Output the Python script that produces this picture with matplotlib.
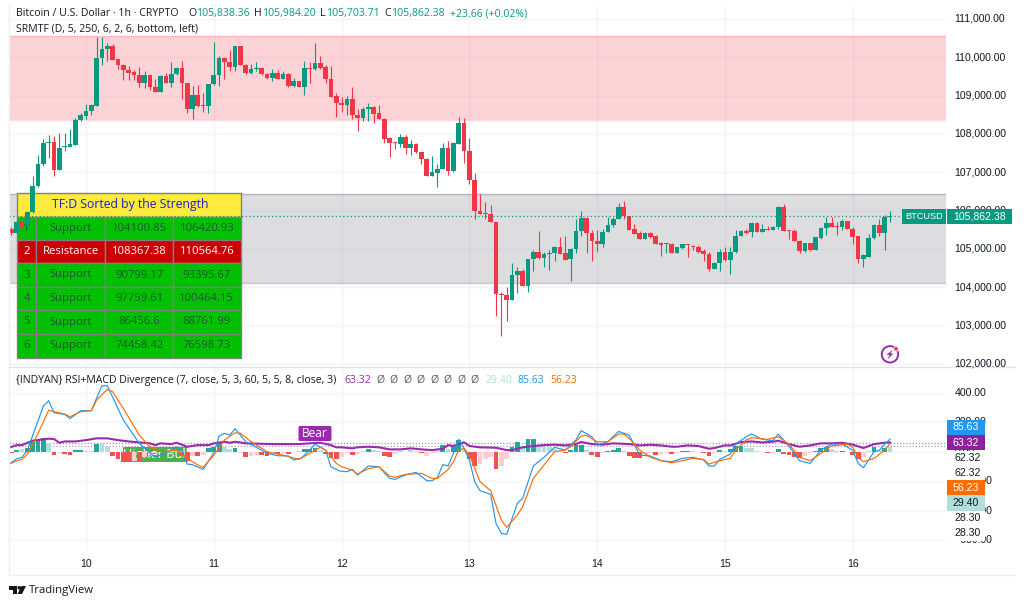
import matplotlib
matplotlib.use("Agg")
import matplotlib.pyplot as plt
from matplotlib.patches import Rectangle, Circle, Polygon, FancyBboxPatch

# --- Data ---

first_hour = -14  # hours relative to midnight of day 10

opens = [105510, 105406, 105710, 105597, 105963, 106641, 107216, 107755, 107780, 107059,
         107650, 107668, 107720, 108364, 108477, 108599, 108729, 109982, 110208, 110295,
         109947, 109808, 109678, 109617, 109547, 109321, 109530, 109234, 109095, 109521,
         109321, 109565, 109721, 109321, 108660, 109025, 108747, 108729, 109304, 109547,
         109982, 109878, 109739, 110295, 109808, 109600, 109686, 109721, 109565, 109460,
         109582, 109443, 109573, 109251, 109373, 109234, 109712, 109686, 109860, 109739,
         109443, 108991, 108799, 108747, 108903, 108503, 108425, 108651, 108712, 108538,
         108399, 107885, 107790, 107746, 107912, 107633, 107738, 107520, 107337, 106911,
         106989, 107076, 107624, 107024, 107746, 108294, 107564, 106798, 105989, 105937,
         105902, 105702, 103831, 103788, 103666, 104318, 104432, 104031, 104727, 104919,
         104762, 104858, 104884, 105058, 104884, 104727, 105006, 105458, 105806, 105406,
         105215, 105128, 105441, 105632, 105771, 106102, 105858, 105510, 105406, 105258,
         105406, 105336, 105145, 105128, 105128, 104884, 105032, 105128, 105076, 105041,
         104936, 104867, 104466, 104640, 104919, 104701, 104919, 105336, 105475, 105449,
         105684, 105449, 105519, 105493, 105563, 106102, 105493, 105458, 105215, 104936,
         105153, 104971, 105284, 105536, 105684, 105597, 105562, 105719, 105510, 105328,
         104745, 104797, 105275, 105615, 105423, 105824]
highs = [105563, 105754, 105730, 106000, 106902, 107450, 107860, 107972, 107946, 108016,
         108033, 108120, 108407, 108538, 108782, 108782, 110522, 110539, 110365, 110339,
         109965, 109826, 109773, 109669, 109739, 109652, 109530, 109443, 109530, 109582,
         109878, 109756, 109913, 109340, 109251, 109286, 109060, 109304, 110400, 110034,
         110017, 110191, 110304, 110304, 109826, 109826, 109878, 109730, 109582, 109686,
         109669, 109652, 109582, 109452, 109382, 109913, 109887, 110382, 110034, 109800,
         109773, 109060, 108956, 108990, 109217, 108642, 108695, 108799, 108729, 108764,
         108416, 107929, 107790, 108000, 107964, 107842, 107772, 107537, 107363, 107424,
         107216, 107755, 107825, 107790, 108451, 108408, 107885, 106972, 106433, 106232,
         106146, 105710, 103883, 103997, 104623, 104519, 104466, 104745, 104971, 105458,
         104919, 104971, 105075, 105319, 105336, 105015, 105780, 105980, 105806, 105493,
         105493, 105528, 105841, 105841, 106189, 106250, 105858, 105650, 105467, 105441,
         105449, 105363, 105180, 105162, 105145, 105058, 105136, 105136, 105110, 105093,
         104988, 104919, 104658, 105006, 105058, 105058, 105493, 105493, 105510, 105693,
         105710, 105650, 105597, 105597, 106119, 106172, 105493, 105510, 105223, 105162,
         105162, 105319, 105580, 105841, 105824, 105710, 105789, 105728, 105562, 105336,
         104858, 105389, 105650, 105771, 105876, 105984]
lows = [105371, 105389, 105560, 105580, 105930, 106607, 107172, 107364, 106902, 107059,
        107564, 107668, 107703, 108347, 108381, 108495, 108729, 109791, 109913, 109930,
        109686, 109408, 109408, 109408, 109217, 109190, 109147, 109095, 109095, 109321,
        109234, 109538, 108921, 108538, 108381, 108712, 108582, 108538, 109277, 109251,
        109443, 109634, 109634, 109791, 109565, 109565, 109634, 109547, 109443, 109373,
        109443, 109425, 109234, 109217, 109234, 109025, 109321, 109669, 109704, 109338,
        108973, 108434, 108581, 108503, 108381, 108077, 108347, 108347, 108277, 108399,
        107755, 107390, 107616, 107668, 107468, 107459, 107511, 107216, 106911, 106902,
        106624, 107076, 106920, 107007, 107729, 107250, 106693, 105789, 105911, 105771,
        105693, 103257, 102735, 103126, 103666, 103840, 104031, 103866, 104414, 104745,
        104536, 104449, 104675, 104866, 104710, 104153, 104884, 105336, 104901, 104693,
        104928, 105058, 105441, 105580, 105771, 105771, 105493, 105389, 105249, 105249,
        105284, 105128, 104823, 104901, 104884, 104884, 104997, 104780, 104971, 104901,
        104693, 104414, 104466, 104414, 104693, 104353, 104901, 105336, 105389, 105302,
        105449, 105432, 105493, 105493, 105528, 105458, 105249, 105197, 104901, 104919,
        104954, 104971, 105267, 105354, 105562, 105362, 105493, 105510, 105128, 104640,
        104519, 104780, 105258, 105336, 104971, 105703]
closes = [105406, 105710, 105580, 105963, 106641, 107216, 107755, 107780, 107059, 107633,
          107686, 107738, 108364, 108486, 108599, 108747, 109982, 110208, 110295, 109930,
          109808, 109669, 109600, 109547, 109321, 109530, 109234, 109095, 109521, 109321,
          109565, 109712, 109321, 108660, 109016, 108729, 108729, 109304, 109547, 109982,
          109878, 109739, 110295, 109808, 109600, 109686, 109721, 109565, 109460, 109600,
          109443, 109573, 109251, 109373, 109234, 109712, 109686, 109860, 109721, 109443,
          108973, 108799, 108747, 108903, 108503, 108425, 108651, 108712, 108521, 108399,
          107877, 107772, 107772, 107912, 107633, 107738, 107520, 107337, 106911, 106998,
          107076, 107624, 107042, 107755, 108294, 107564, 106798, 105989, 105911, 105902,
          105702, 103823, 103788, 103666, 104327, 104432, 104031, 104736, 104919, 104762,
          104866, 104901, 105058, 104866, 104710, 105006, 105458, 105806, 105406, 105215,
          105128, 105441, 105632, 105771, 106102, 105858, 105493, 105389, 105258, 105406,
          105302, 105128, 105093, 105145, 104884, 105041, 105119, 105110, 105041, 104928,
          104867, 104466, 104623, 104919, 104701, 104919, 105336, 105458, 105423, 105667,
          105449, 105510, 105502, 105580, 106102, 105467, 105476, 105215, 104936, 105145,
          104971, 105302, 105545, 105684, 105580, 105580, 105719, 105510, 105319, 104727,
          104840, 105284, 105615, 105406, 105824, 105862]

support_zone = (104100.85, 106420.93)
resistance_zone = (108367.38, 110564.76)
last_price = 105862.38

price_ticks = [111000, 110000, 109000, 108000, 107000, 106000, 105000, 104000, 103000, 102000]
osc_ticks = [400, 200, 0, -200, -400, -600]
day_hours = [0, 24, 48, 72, 96, 120, 144]
day_labels = ["10", "11", "12", "13", "14", "15", "16"]

blue_t = [-14.5, -13, -12, -11, -8, -7, -6, -4, -3, -1, 1, 3, 4, 7, 10, 12, 13, 15, 17, 18, 19, 20, 22, 24, 25,
          26, 27, 28, 30, 32, 34, 36, 38, 39, 40.4, 42, 43, 45, 46, 47.6, 49, 50, 51, 53, 55, 57, 58, 60, 62,
          64, 65, 66, 67, 68, 69, 70, 71, 72, 73, 74, 76, 77, 78, 79, 81, 82, 84, 86, 88, 90, 92, 93, 95, 96,
          98, 100, 102, 104, 106, 108, 110, 112, 114, 116, 117, 118, 119, 121, 122, 124, 125, 127, 129, 130,
          132, 134, 136, 138, 140, 142, 144, 145, 146, 148, 149, 150, 151]
blue_v = [-86, -47, -38, 11, 311, 347, 265, 254, 225, 279, 279, 449, 449, 216, 57, -7, -38, -7, 34, 11, -84, -88,
          -120, -7, 107, 125, 113, 157, 68, 30, -11, -27, -29, -56, -45, 11, 52, 11, -102, -131, -136, -120, -158,
          -97, -102, -181, -188, -158, -140, -197, -197, -174, -88, -97, -11, 84, 23, -57, -204, -265, -290, -487,
          -555, -562, -351, -317, -97, -38, 30, 11, 80, 143, 102, 45, 68, 138, 113, -23, -29, -61, -68, -45, -38,
          -56, -97, -97, -52, -16, 52, 102, 120, 84, 75, 120, 39, -61, -79, 11, 52, 52, 11, -79, -109, 0, 11, 52, 85.63]

orange_t = [-14.5, -13, -12, -11, -9, -7, -6, -4, -3, -1, 1, 2, 4, 5, 7, 10, 12, 14, 17, 19, 21, 22, 24, 26, 28, 29,
            31, 34, 37, 40, 42, 44, 45, 47, 48, 50, 51, 53, 55, 57, 58, 60, 63, 65, 66, 68, 69, 70, 71, 72, 74, 76,
            78, 79, 81, 82, 84, 86, 88, 90, 91, 93, 94, 96, 98, 100, 101, 102, 104, 106, 108, 110, 112, 114, 116,
            117, 119, 121, 122, 124, 125, 128, 130, 132, 134, 136, 138, 140, 143, 144, 145, 146, 148, 150, 151]
orange_v = [-86, -61, -52, -16, 125, 283, 272, 256, 238, 272, 279, 352, 424, 408, 295, 113, 34, 0, 11, -45, -90, -106,
            -23, 80, 129, 125, 68, 0, -23, -52, -11, 30, 11, -79, -102, -125, -152, -115, -102, -165, -174, -154, -147,
            -181, -181, -120, -68, 11, 23, -23, -204, -265, -465, -514, -431, -374, -181, -90, 0, 11, 34, 107, 111, 68,
            68, 120, 120, 91, 11, -38, -61, -75, -61, -45, -52, -84, -61, -45, 11, 80, 95, 84, 102, 52, -38, -61, -11,
            39, 52, 30, -38, -68, -45, 11, 56.23]

purple_t = [-14.5, -13, -12, -11, -10, -7, -6, -5, -4, -2, 0, 2, 4, 6, 8, 12, 13, 14, 16, 17, 19, 21, 23, 24, 26, 27,
            28, 30, 35, 40, 42, 44, 46, 47, 48, 50, 51, 53, 55, 57, 59, 61, 63, 65, 67, 68, 69, 70, 71, 72, 74, 77, 79,
            80, 82, 84, 86, 88, 90, 92, 93, 95, 97, 99, 102, 104, 106, 108, 110, 111, 113, 115, 117, 118, 120, 121,
            123, 125, 127, 129, 130, 132, 134, 136, 138, 140, 142, 144, 146, 148, 150, 151]
purple_v = [27, 45, 45, 61, 75, 89, 86, 61, 70, 70, 79, 91, 91, 79, 70, 57, 45, 57, 52, 61, 34, 45, 45, 57, 68, 61, 68,
            57, 52, 52, 57, 61, 45, 30, 30, 23, 30, 34, 30, 16, 16, 23, 16, 11, 20, 45, 39, 52, 64, 39, 30, 27, 11, 11,
            30, 39, 45, 48, 43, 52, 66, 52, 48, 57, 52, 43, 48, 43, 34, 34, 43, 39, 20, 25, 43, 43, 66, 70, 63, 68, 75,
            52, 34, 43, 57, 57, 61, 48, 25, 52, 61, 63.32]

hist_vals = [-7, 9, 16, 25, 79, 79, 91, 57, -23, -11,
             -16, -23, 11, 11, 5, 5, 52, 52, 30, -29,
             -52, -68, -68, -61, -61, -39, -23, -11, 7, 7,
             5, 5, -29, -61, -29, -29, -23, 25, 30, 61,
             30, 16, 25, -7, -34, -29, -23, -25, -29, -16,
             -18, -7, -16, -5, 5, 16, 16, 25, 11, -16,
             -45, -52, -39, -11, -23, -18, 5, 18, 11, 5,
             -29, -34, -16, 5, -5, 9, 5, -7, -29, -7,
             5, 48, 16, 43, 79, 20, -52, -97, -84, -52,
             -39, -118, -97, -52, 30, 66, 39, 84, 88, 43,
             43, 30, 20, 11, -11, 11, 43, 43, 11, -20,
             -34, -7, 7, 11, 25, 5, -29, -41, -45, -16,
             -11, -23, -16, -11, -16, -7, 7, 7, 5, -5,
             -11, -29, -7, 11, 5, 16, 39, 39, 25, 25,
             5, -5, -11, -7, 18, -16, -25, -39, -45, -27,
             -11, 5, 23, 30, 16, 7, 7, -5, -25, -52,
             -39, 3, 30, 11, 23, 29.4]
# d = strong up, l = weak up, r = strong down, p = weak down
hist_kinds = ["rdldddd" + "lrp",
              "rrddlldllr",
              "rrrprpppdd",
              "llrrprpddd",
              "lldprpprrp",
              "rprpldddlr",
              "rrpprpldll",
              "rrpldlprpp",
              "ldlddlrrpp",
              "prppddlddl",
              "llllrdddlr",
              "rpdddlrrrp",
              "prpprpddlp",
              "rrpdlddd" + "ll",
              "lrrpdrrrrp",
              "pdddlldprr",
              "pldldl"]
hist_kinds = "".join(hist_kinds)

table_rows = [("1", "Support", "104100.85", "106420.93"),
              ("2", "Resistance", "108367.38", "110564.76"),
              ("3", "Support", "90799.17", "93395.67"),
              ("4", "Support", "97759.61", "100464.15"),
              ("5", "Support", "86456.6", "88761.99"),
              ("6", "Support", "74458.42", "76598.73")]

# --- Style ---

GREEN = "#089981"
RED = "#f23645"
GRID = "#f2f4f8"
UI_FONT = ["Open Sans", "DejaVu Sans"]
AXIS_FONT = ["Liberation Sans", "DejaVu Sans"]
HIST_COLORS = {"d": "#26a69a", "l": "#b2dfdb", "r": "#ef5350", "p": "#ffcdd2"}
W, H = 1024, 606

# scale: 128 px per day, left edge of the plot at x=9
HOUR_PX = 127.8 / 24
X0 = 86


def pane(top, bottom, ylim):
    ax = fig.add_axes([9 / W, 1 - bottom / H, 937 / W, (bottom - top) / H])
    ax.set_xlim((9 - X0) / HOUR_PX, (946 - X0) / HOUR_PX)
    ax.set_ylim(*ylim)
    ax.axis("off")
    return ax


def label(x, y, s, color="#131722", size=7.55, ha="left", font=None, zorder=20, **kw):
    return px.text(x, y, s, color=color, fontsize=size, ha=ha, va="center", family=font or UI_FONT,
                   zorder=zorder, **kw)


def tag(x0, x1, y0, y1, bg, s, fg="white", size=7.6):
    px.add_patch(Rectangle((x0, y0), x1 - x0, y1 - y0, fc=bg, ec="none", zorder=12))
    label((x0 + x1) / 2, (y0 + y1) / 2, s, color=fg, ha="center", font=AXIS_FONT, size=size, zorder=13)


fig = plt.figure(figsize=(W / 100, H / 100), dpi=100, facecolor="white")

# overlay in pixel coordinates for everything that is not on a data scale
px = fig.add_axes([0, 0, 1, 1], zorder=10)
px.set_xlim(0, W)
px.set_ylim(H, 0)
px.axis("off")

# --- Price pane ---

ax = pane(5, 366, (101943, 111365))
ax.set_zorder(1)
hours = [first_hour + i for i in range(len(opens))]

for d in day_hours:
    ax.axvline(d, color=GRID, lw=1, zorder=0)
for p in price_ticks:
    ax.axhline(p, color=GRID, lw=1, zorder=0)

ax.axhspan(*resistance_zone, fc="#f7525f", alpha=0.25, ec="none", zorder=1)
ax.axhspan(*support_zone, fc="#787b86", alpha=0.25, ec="none", zorder=1)
for edge in resistance_zone:
    ax.axhline(edge, color="#f7525f", alpha=0.2, lw=1, zorder=1)
for edge in support_zone:
    ax.axhline(edge, color="#787b86", alpha=0.4, lw=1, zorder=1)

# strength table sits under the candles, so it goes in this axes
col_x = [17.3, 35.7, 105.3, 173, 240.7]
row_y = [193, 216.7, 240, 263.3, 286.7, 310, 334, 357.7]
ax.add_patch(Rectangle((col_x[0], row_y[0]), col_x[-1] - col_x[0], row_y[1] - row_y[0], fc="#ffeb3b", ec="#808080",
                       lw=1, transform=px.transData, zorder=3))
ax.text((col_x[0] + col_x[-1]) / 2 + 1, (row_y[0] + row_y[1]) / 2 - 0.5, "TF:D Sorted by the Strength", color="#1a1ae0",
        fontsize=8.8, ha="center", va="center", family=UI_FONT, transform=px.transData, zorder=4)
for r, row in enumerate(table_rows):
    is_res = row[1] == "Resistance"
    for c, cell in enumerate(row):
        ax.add_patch(Rectangle((col_x[c], row_y[r + 1]), col_x[c + 1] - col_x[c], row_y[r + 2] - row_y[r + 1],
                               fc="#cc0000" if is_res else "#00c000", ec="#808080", lw=1,
                               transform=px.transData, zorder=3))
        ax.text((col_x[c] + col_x[c + 1]) / 2, (row_y[r + 1] + row_y[r + 2]) / 2, cell,
                color="white" if is_res else "#1f5c2e", fontsize=8.1, ha="center", va="center", family=UI_FONT,
                transform=px.transData, zorder=4)

colors = [GREEN if c >= o else RED for o, c in zip(opens, closes)]
ax.vlines(hours, lows, highs, colors=colors, lw=0.8, zorder=5)
ax.bar(hours, [abs(c - o) for o, c in zip(opens, closes)], bottom=[min(o, c) for o, c in zip(opens, closes)],
       width=0.88, color=colors, linewidth=0, zorder=6)
ax.axhline(last_price, color=GREEN, lw=0.9, ls=(0, (1, 2)), zorder=7)

# --- Oscillator pane ---

ax2 = pane(367, 550, (-668, 576))
ax2.set_zorder(1)
for d in day_hours:
    ax2.axvline(d, color=GRID, lw=1, zorder=0)
for v in osc_ticks:
    ax2.axhline(v, color=GRID, lw=1, zorder=0)
ax2.axhline(62.32, color="#9598a1", lw=0.9, ls=(0, (1, 1.5)), zorder=1)
ax2.axhline(38, color="#b79ac0", lw=0.9, ls=(0, (1, 1.5)), zorder=1)

# labels sit under the histogram and the lines
ax2.add_patch(FancyBboxPatch((123.5, 447.5), 64, 14, boxstyle="round,pad=0.5,rounding_size=1.5", fc="#4caf50", ec="none",
                             transform=px.transData, zorder=2))
ax2.text(155.5, 454.5, "Higher Bull", color="white", fontsize=9.2, ha="center", va="center", family=UI_FONT,
         transform=px.transData, zorder=2.5)
ax2.bar(hours, hist_vals, width=0.9, color=[HIST_COLORS[k] for k in hist_kinds], linewidth=0, zorder=3)
ax2.plot(purple_t, purple_v, color="#9c27b0", lw=1.5, zorder=4)
ax2.plot(blue_t, blue_v, color="#2196f3", lw=0.85, zorder=5)
ax2.plot(orange_t, orange_v, color="#ff6d00", lw=0.85, zorder=6)
ax2.add_patch(FancyBboxPatch((299, 426.5), 32, 14, boxstyle="round,pad=0.5,rounding_size=1.5", fc="#9c27b0", ec="none",
                             transform=px.transData, zorder=7))
ax2.text(315, 433.5, "Bear", color="white", fontsize=8.6, ha="center", va="center", family=UI_FONT,
         transform=px.transData, zorder=8)

# --- Frame lines ---

px.plot([8.5, 8.5], [5, 574], color="#eef0f4", lw=1, zorder=1)
px.plot([8.5, 1015], [366.5, 366.5], color="#e0e3eb", lw=1, zorder=1)
px.plot([8.5, 1015], [574.5, 574.5], color="#eef0f4", lw=1, zorder=1)

# --- Axis labels ---

for p in price_ticks:
    y = ax.transData.transform((0, p))[1]
    t = label(954.5, H - y, f"{p:,.2f}", font=AXIS_FONT, size=7.6, zorder=5)
    if p == 102000:
        t.set_clip_path(Rectangle((940, 0), 84, 366, transform=px.transData))
for v in osc_ticks:
    y = ax2.transData.transform((0, v))[1]
    label(954.5, H - y, f"{v:.2f}".replace("-", "\u2212"), font=AXIS_FONT, size=7.6, zorder=5)
for d, s in zip(day_hours, day_labels):
    label(X0 + d * HOUR_PX, 564, s, ha="center", font=AXIS_FONT, size=7.6)

# these scale labels carry a white plate that hides the ticks behind them
for y, s in [(458, "62.32"), (473, "62.32"), (518, "28.30"), (533, "28.30")]:
    px.add_patch(Rectangle((947, y - 7.5), 38, 15, fc="white", ec="none", zorder=11))
    label(954.5, y, s, font=AXIS_FONT, size=7.6, zorder=14)

tag(901.7, 946, 209, 224, GREEN, "BTCUSD", size=6.6)
tag(946.7, 1012, 209, 224, GREEN, "105,862.38")
tag(946.7, 985, 420, 435, "#2196f3", "85.63")
tag(946.7, 985, 435, 450, "#8e1f9e", "63.32")
tag(946.7, 985, 480, 495.3, "#ff6d00", "56.23")
tag(946.7, 985, 495.3, 510.7, "#b2dfdb", "29.40", fg="#131722")

# --- Legends ---

label(16, 13.5, "Bitcoin / U.S. Dollar \u00b7 1h \u00b7 CRYPTO")
for x_key, x_val, key, val in [(188, 196, "O", "105,838.36"), (254, 261.7, "H", "105,984.20"),
                               (320, 325.7, "L", "105,703.71"), (384, 391, "C", "105,862.38")]:
    label(x_key, 13.5, key)
    label(x_val, 13.5, val, color=GREEN)
label(450, 13.5, "+23.66 (+0.02%)", color=GREEN)
label(16, 29, "SRMTF (D, 5, 250, 6, 2, 6, bottom, left)")
label(16, 380.5, "{INDYAN} RSI+MACD Divergence (7, close, 5, 3, 60, 5, 5, 8, close, 3)")
label(344, 380.5, "63.32", color="#9c27b0")
for x in [380, 393.7, 407, 420.7, 434, 447.7, 461, 474.7]:
    label(x, 380.5, "\u00d8", color="#555a66", ha="center")
label(485, 380.5, "29.40", color="#b2dfdb")
label(517.7, 380.5, "85.63", color="#2196f3")
label(550, 380.5, "56.23", color="#ff6d00")

# --- Logo and icon ---

px.add_patch(Polygon([(9, 586), (17, 586), (17, 594), (13, 594), (13, 590), (9, 590)], fc="#131722", ec="none", zorder=20))
px.add_patch(Circle((19.3, 587.8), 1.8, fc="#131722", ec="none", zorder=20))
px.add_patch(Polygon([(21.5, 586), (26, 586), (22, 594), (17.5, 594)], fc="#131722", ec="none", zorder=20))
label(29, 590.5, "TradingView", size=8.2, color="#131722")

px.add_patch(Circle((890, 354.3), 8.2, fc="white", ec="#9c27b0", lw=1.4, zorder=20))
px.add_patch(Polygon([(892.5, 349.5), (886.5, 355), (889.5, 355), (887.5, 359.5), (893.5, 353.5), (890.5, 353.5)],
                     fc="#9c27b0", ec="none", zorder=21))
px.add_patch(Circle((896, 348.8), 2.3, fc="#f23645", ec="white", lw=0.6, zorder=22))

fig.savefig("out.png", dpi=100, facecolor="white")
